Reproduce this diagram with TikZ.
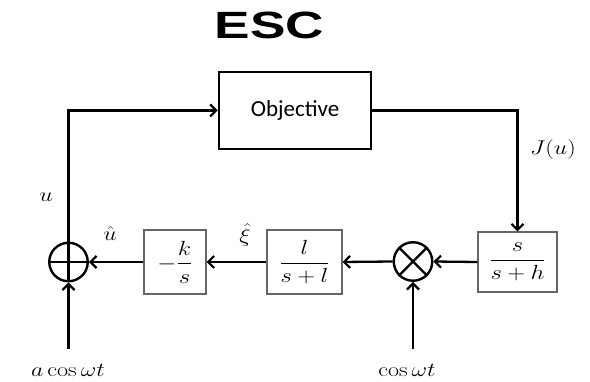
\documentclass[tikz,border=0pt]{standalone}
\usepackage{fix-cm}
\usepackage{amsmath}
\usepackage{graphicx}
\usepackage{fontspec}
\newfontfamily\titlefont{Liberation Sans}
\newfontfamily\objfont{Carlito}
\usetikzlibrary{arrows.meta}
\newcommand{\wmath}[1]{\scalebox{1.2}[1]{$#1$}}
\begin{document}
\begin{tikzpicture}[x=1pt,y=-1pt,
  wire/.style={line width=2.3pt,black},
  arr/.style={wire,-{Straight Barb[length=6pt,width=12pt,line width=2.2pt]}},
  blk/.style={draw=black!60,line width=1.1pt,fill=white,inner sep=0pt,
    font=\fontsize{20.5}{23}\selectfont},
  objbox/.style={draw,line width=2.5pt,minimum width=152pt,minimum height=77pt,
    font=\objfont\fontsize{23}{26}\selectfont},
  junc/.style={circle,draw,line width=2.4pt,minimum size=38.5pt,inner sep=0pt},
  lbl/.style={font=\fontsize{20}{23}\selectfont,inner sep=0pt}
]
\useasboundingbox (0,0) rectangle (590,382);
% title
\node[font=\titlefont\bfseries\fontsize{38}{40}\selectfont,xscale=1.4,anchor=base,inner sep=0pt] (title) at (269.5,39) {ESC};
% blocks
\node[objbox] (obj) at (295,110.5) {Objective};
\node[blk,minimum width=79pt,minimum height=60pt] (hpf) at (517.5,262) {\wmath{\dfrac{s}{s+h}}};
\node[junc] (mul) at (413,261.5) {};
\node[blk,minimum width=75pt,minimum height=64pt] (lpf) at (304.5,262) {\wmath{\dfrac{l}{s+l}}};
\node[blk,minimum width=62pt,minimum height=64pt] (intg) at (175,262) {\wmath{-\dfrac{k}{s}}};
\node[junc] (sum) at (68.5,262) {};
% junction symbols
\draw[wire] (sum.north) -- (sum.south) (sum.west) -- (sum.east);
\draw[wire] (mul.north east) -- (mul.south west) (mul.north west) -- (mul.south east);
% input coordinates
\coordinate (ain) at (68.5,349);
\coordinate (cin) at (413,349);
% connectors
\draw[arr] (sum.north) |- (obj.west);
\draw[arr] (obj.east) -| (hpf.north);
\draw[arr] (hpf.west) -- (mul.east);
\draw[arr] (mul.west) -- (lpf.east);
\draw[arr] (lpf.west) -- (intg.east);
\draw[arr] (intg.west) -- (sum.east);
\draw[arr] (ain) -- (sum.south);
\draw[arr] (cin) -- (mul.south);
% labels
\node[lbl] (lJ) at (553,150) {\wmath{J(u)}};
\node[lbl] (lu) at (46,197) {\wmath{u}};
\node[lbl] (luh) at (110,234) {\wmath{\hat{u}}};
\node[lbl] (lxi) at (245,235) {\wmath{\hat{\xi}}};
\node[lbl] (la) at (68,370) {\wmath{a\cos\omega t}};
\node[lbl] (lc) at (407,370) {\wmath{\cos\omega t}};
\end{tikzpicture}
\end{document}
